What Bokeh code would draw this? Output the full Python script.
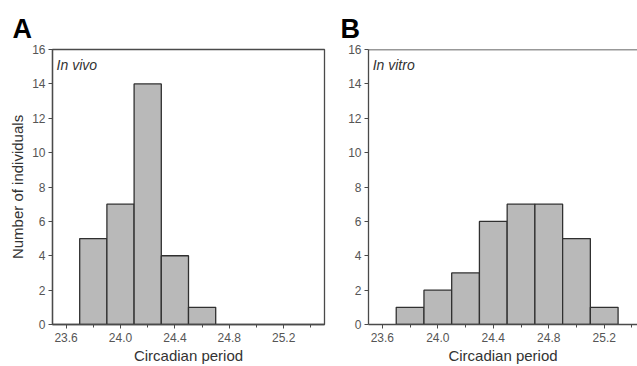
from bokeh.plotting import figure
from bokeh.layouts import row
from bokeh.models import Label, FixedTicker, Span, PrintfTickFormatter
from bokeh.embed import file_html
from bokeh.resources import INLINE

# Data
bins_vivo = [23.8, 24.0, 24.2, 24.4, 24.6]
counts_vivo = [5, 7, 14, 4, 1]
bins_vitro = [23.8, 24.0, 24.2, 24.4, 24.6, 24.8, 25.0, 25.2]
counts_vitro = [1, 2, 3, 6, 7, 7, 5, 1]
bin_width = 0.2
x_ticks = [23.6, 24.0, 24.4, 24.8, 25.2]
x_minor = [23.6, 23.8, 24.0, 24.2, 24.4, 24.6, 24.8, 25.0, 25.2, 25.4]
y_ticks = [0, 2, 4, 6, 8, 10, 12, 14, 16]

FONT = "Liberation Sans"
AX = "#4a4a4a"
TXT = "#555555"


def make_panel(letter, note, centers, counts, width, bl, br, xend, ylabel):
    p = figure(width=width, height=366, x_range=(23.5, xend), y_range=(0, 16),
               output_backend="svg", toolbar_location=None,
               min_border_left=bl, min_border_right=br,
               min_border_top=49, min_border_bottom=42)
    p.grid.visible = False
    p.background_fill_color = "white"
    p.border_fill_color = "white"
    lefts = [c - bin_width / 2 for c in centers]
    rights = [c + bin_width / 2 for c in centers]
    p.quad(left=lefts, right=rights, bottom=0, top=counts,
           fill_color="#b9b9b9", line_color="#303030", line_width=1.3)

    p.xaxis.ticker = FixedTicker(ticks=x_ticks, minor_ticks=x_minor)
    p.xaxis.formatter = PrintfTickFormatter(format="%.1f")
    p.yaxis.ticker = FixedTicker(ticks=y_ticks, minor_ticks=[])
    for ax in (p.xaxis[0], p.yaxis[0]):
        ax.axis_line_color = AX
        ax.axis_line_width = 1.3
        ax.major_tick_line_color = AX
        ax.minor_tick_line_color = AX
        ax.major_tick_in = 0
        ax.major_tick_out = 4
        ax.minor_tick_in = 0
        ax.minor_tick_out = 3
        ax.major_label_text_font = FONT
        ax.major_label_text_font_size = "12px"
        ax.major_label_text_color = TXT
        ax.axis_label_text_font = FONT
        ax.axis_label_text_font_style = "normal"
        ax.axis_label_text_color = "#333333"
    p.yaxis.major_label_standoff = 3
    p.xaxis.major_label_standoff = 4
    p.xaxis.axis_label = "Circadian period"
    p.xaxis.axis_label_text_font_size = "15px"
    p.xaxis.axis_label_standoff = 2
    if ylabel:
        p.yaxis.axis_label = ylabel
        p.yaxis.axis_label_text_font_size = "15px"
        p.yaxis.axis_label_standoff = 3

    p.title.text = letter
    p.title.text_font = FONT
    p.title.text_font_size = "27px"
    p.title.text_font_style = "bold"
    p.title.text_color = "black"
    p.title.align = "left"
    p.title.standoff = 12

    p.add_layout(Label(x=23.53, y=15.55, text=note, text_font=FONT,
                       text_font_size="14px", text_font_style="italic",
                       text_color="#333333", text_baseline="top"))
    return p


pa = make_panel("A", "In vivo", bins_vivo, counts_vivo, 330, 52, 6, 25.5,
                "Number of individuals")
pa.title.offset = -40
pa.outline_line_color = AX
pa.outline_line_width = 1.3

pb = make_panel("B", "In vitro", bins_vitro, counts_vitro, 307, 38, 0, 25.44,
                None)
pb.title.offset = -28
pb.outline_line_color = None
pb.add_layout(Span(location=16, dimension="width", line_color="#333333",
                   line_width=1.5))

layout = row(pa, pb)
open("out.html", "w").write(file_html(layout, INLINE))
